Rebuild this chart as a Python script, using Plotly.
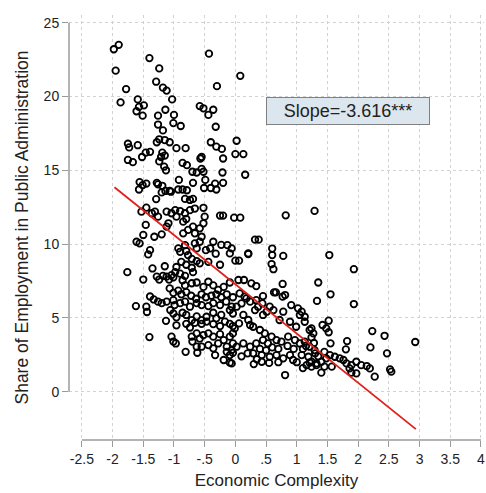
import plotly.graph_objects as go

# ---------------- data ----------------
# Economic complexity (x) and share of employment in public administration (y)
top_x = [-1.98,-1.90,-1.95,-1.78,-1.87,-1.59,-1.57,-1.61,-1.49,-1.51,-1.40,-1.24,-1.29,-1.18,-1.12,-1.03,
         -1.14,-1.26,-1.26,-1.18,-1.00,-1.01,-0.89,-0.58,-0.52,-0.36,-0.44,-0.32,-0.43,-0.30,0.08]
top_y = [23.2,23.5,21.75,20.5,19.6,19.8,19.3,19.0,19.4,18.7,22.6,21.9,21.0,20.6,20.4,19.8,
         19.1,18.7,18.1,17.7,18.75,18.2,18.0,19.35,19.2,19.1,18.75,17.95,22.9,20.7,21.4]

upper_x = [-1.75,-1.73,-1.59,-1.75,-1.67,-1.52,-1.46,-1.39,-1.28,-1.24,-1.15,-1.07,-1.19,-1.15,-1.21,-1.24,
           -1.16,-1.13,-0.96,-0.86,-0.79,-0.70,-0.63,-0.55,-0.52,-0.57,-0.55,-0.40,-0.31,-0.22,-0.81,0.02,
           0.00,0.13,0.16,-0.20,-0.21]
upper_y = [16.8,16.55,16.7,15.7,15.55,15.9,16.2,16.25,16.9,17.1,17.05,16.9,16.2,16.0,15.9,15.6,
           15.25,15.0,16.5,15.5,15.35,14.9,14.85,15.1,14.9,15.8,15.9,16.9,16.6,16.45,16.5,17.0,
           16.1,16.1,14.7,15.8,14.85]

mid_hi_x = [-1.56,-1.51,-1.45,-1.57,-1.28,-1.26,-1.19,-1.14,-1.20,-1.07,-1.05,-1.29,-0.92,-0.93,-0.86,-0.79,
            -0.69,-0.49,-0.51,-0.40,-0.33,-0.20,-0.31,-0.82,-0.74,-0.69]
mid_hi_y = [14.2,14.0,14.1,13.7,14.15,14.05,13.95,13.6,13.5,13.6,13.55,13.05,14.35,13.7,13.7,13.65,
            14.15,14.35,13.8,13.8,14.1,14.15,13.7,13.06,12.99,13.06]

left_mid_x = [-1.45,-1.53,-1.36,-1.31,-1.26,-1.12,-1.09,-1.46,-1.12,-1.50,-1.32,-1.20,-1.61,-1.56,-1.39,-1.42]
left_mid_y = [12.47,12.2,12.09,12.2,11.86,12.2,11.41,11.3,11.18,10.62,10.5,10.66,10.16,10.05,9.59,9.3]

center_mid_x = [-0.98,-0.90,-0.82,-0.74,-0.66,-0.52,-0.80,-0.85,-0.96,-1.04,-0.50,-0.52,-0.58,-0.69,-0.77,-0.66,
                -0.85,-0.55,-0.58,-0.82,-0.93,-0.90,-0.80,-0.66,-0.63,-0.25,-0.20,-0.02,0.08,-0.13,-0.06,-0.09,
                0.21,-0.36,-0.41,-0.48]
center_mid_y = [12.3,12.24,12.09,12.3,12.41,12.46,11.7,11.52,11.86,12.09,11.86,11.41,11.07,11.18,10.96,10.73,
                10.73,10.5,10.16,9.93,9.71,9.48,9.53,10.05,9.71,11.93,11.93,11.79,11.79,9.93,9.71,9.37,
                9.37,10.16,9.71,9.59]

scatter_mid_x = [0.82,1.29,0.32,0.38,0.60,-0.77,-0.71,-0.63,-0.58,-0.32,-0.23,0.60,0.78,0.59,0.62,0.21,
                 0.00,0.06,1.53,1.93,-1.76,-1.50,-1.35,-1.15]
scatter_mid_y = [11.95,12.25,10.3,10.3,9.7,9.25,9.0,8.85,8.7,9.35,9.95,9.26,9.2,8.65,8.3,9.33,
                 8.88,8.88,9.26,8.3,8.1,7.6,8.35,8.5]

band7_x = [-1.28,-1.24,-1.18,-1.12,-1.08,-1.04,-1.01,-0.98,-0.90,-0.86,-0.82,-0.96,-0.88,-0.80,-0.71,-0.69,
           -0.44,-0.25,-0.82,-0.71,-0.63,-0.52,-0.44,-0.36,-0.28,-0.19,-0.09,-1.07,-1.01,-0.93,-0.88,-0.80,
           -0.72,-0.64,-0.55,-0.48,-0.39,-0.31,-0.23,-0.14,-0.04,-1.39,-1.33,0.05,0.14,0.26,0.34,0.77,
           0.77,0.81,0.63,0.66,0.07,0.15,0.24,0.34,0.45,1.35,1.55,1.33]
band7_y = [7.8,7.6,7.85,7.8,7.6,7.9,7.75,8.1,8.0,7.55,7.85,8.45,8.8,8.6,8.4,8.1,
           8.8,8.6,7.2,7.35,7.4,7.1,7.45,7.2,6.9,7.1,7.4,7.0,6.7,6.85,6.6,6.75,
           6.5,6.3,6.6,6.4,6.5,6.6,6.4,6.6,6.4,6.45,6.25,7.57,7.57,7.34,7.16,7.3,
           6.44,6.55,6.73,6.73,6.66,6.44,6.1,6.2,6.48,7.4,6.6,6.15]

band5_x = [-1.12,-1.01,-0.99,-0.90,-0.82,-0.74,-0.63,-0.55,-0.44,-0.36,-0.25,-0.15,-0.06,
           -1.62,-1.45,-1.44,-1.26,-1.20,
           -1.06,-1.01,-0.96,-0.86,-0.80,-0.71,-0.63,-0.55,-0.47,-0.36,-0.31,-0.23,-0.09,-0.04,
           -1.13,
           -0.96,-0.80,-0.74,-0.66,-0.55,-0.47,-0.36,-0.25,-0.17,-0.09,-0.04]
band5_y = [6.1,6.2,5.87,6.0,6.1,5.76,6.0,5.87,5.8,6.0,5.87,6.1,5.76,
           5.8,5.76,5.4,6.1,6.0,
           5.53,5.3,5.04,5.35,5.2,4.85,5.1,4.85,5.08,5.35,4.97,5.2,5.53,5.3,
           4.8,
           4.5,4.6,4.35,4.67,4.6,4.75,4.58,4.45,4.75,4.6,4.45]

band5r_x = [0.44,0.37,0.32,0.02,0.13,0.21,0.06,-0.01,0.24,0.62,0.91,1.02,1.08,1.05,1.13,0.78,
            0.72,0.89,0.99,1.13,1.21,1.24,1.27,0.56,0.51,0.45,0.10,0.18,1.93,1.52,1.48,1.42]
band5r_y = [5.98,5.76,5.53,5.76,5.2,4.86,4.63,4.29,4.52,5.53,5.87,5.65,5.42,5.2,5.08,5.42,
            4.86,4.74,4.4,4.74,4.18,4.29,3.95,5.76,5.42,5.2,5.98,6.32,5.94,4.81,4.29,4.52]

low_left_x = [-1.40,-1.04,-1.01,-0.97,
              -0.71,-0.63,-0.58,-0.52,-0.44,-0.36,-0.25,-0.19,-0.09,-0.04,
              -0.70,-0.63,-0.55,-0.44,-0.36,-0.28,-0.14,-0.04,
              -0.81,-0.62,-0.33,-0.19,-0.06,-0.14,-0.09,-0.04]
low_left_y = [3.7,3.73,3.4,3.27,
              3.73,3.95,3.6,3.84,3.95,3.73,3.9,3.5,3.73,3.95,
              3.4,3.05,3.05,3.16,2.94,3.27,3.05,3.27,
              2.7,2.64,2.48,2.15,1.92,2.7,2.48,2.64]

low_right_x = [0.29,0.40,0.48,0.59,0.67,0.75,0.86,0.97,1.05,1.13,1.21,1.29,0.45,0.53,0.34,0.24,0.13,0.02,-0.06,
               0.29,0.43,0.56,0.67,0.78,0.89,0.94,1.08,1.19,1.24,1.32,1.40,1.48,1.54,1.62,1.70,1.76,1.81,
               1.16,1.24,1.32,1.21,
               -0.09,0.30,0.43,0.81,1.40,1.89,1.97,2.05,2.14,2.19,2.27,1.89,1.97,
               1.82,1.80,1.24,
               2.23,2.20,2.43,2.47,2.52,2.54,2.93,
               1.52,1.55,1.86,1.57]
low_right_y = [4.4,4.18,3.95,3.73,3.5,3.39,3.73,3.5,3.27,3.39,3.05,2.82,3.5,3.27,3.27,3.05,3.27,3.05,2.82,
               2.6,2.48,2.37,2.48,2.26,2.48,2.15,2.48,2.37,2.03,1.92,2.03,2.26,2.48,2.37,2.26,2.15,1.92,
               1.8,1.7,1.8,1.97,
               1.97,1.87,2.03,1.13,1.29,1.8,2.03,1.8,1.74,1.58,1.02,1.29,1.24,
               3.43,2.87,3.68,
               4.11,3.0,3.79,2.6,1.51,1.36,3.37,
               4.03,3.28,1.58,1.7]

dense_x = [1.10,1.15,1.28,1.30,1.35,1.45,0.95,0.85,0.70,0.60,0.50,0.40,0.20,0.10,0.35,0.55,0.70,1.00,1.10,1.45]
dense_y = [2.9,3.1,3.3,2.6,2.4,2.7,2.9,3.1,2.9,3.0,2.8,2.9,2.6,2.4,2.2,1.95,2.0,2.0,1.6,1.7]

# fitted line end points
fit_x = [-1.97, 2.94]
fit_y = [13.85, -2.53]
slope_label = "Slope=-3.616***"

x_ticks = [-2.5, -2, -1.5, -1, -0.5, 0, 0.5, 1, 1.5, 2, 2.5, 3, 3.5, 4]
x_tick_text = ["-2.5", "-2", "-1.5", "-1", "-.5", "0", ".5", "1", "1.5", "2", "2.5", "3", "3.5", "4"]
y_ticks = [0, 5, 10, 15, 20, 25]

groups = [(top_x, top_y), (upper_x, upper_y), (mid_hi_x, mid_hi_y), (left_mid_x, left_mid_y),
          (center_mid_x, center_mid_y), (scatter_mid_x, scatter_mid_y), (band7_x, band7_y),
          (band5_x, band5_y), (band5r_x, band5r_y), (low_left_x, low_left_y),
          (low_right_x, low_right_y), (dense_x, dense_y)]
xs, ys = [], []
for gx, gy in groups:
    assert len(gx) == len(gy)
    xs += gx
    ys += gy

FONT = "Liberation Sans, Arial, sans-serif"

fig = go.Figure()
fig.add_trace(go.Scatter(
    x=xs, y=ys, mode="markers",
    marker=dict(symbol="circle-open", size=6.5, color="black", line=dict(width=1.8, color="black")),
    showlegend=False, hoverinfo="skip"))
fig.add_trace(go.Scatter(
    x=fit_x, y=fit_y, mode="lines",
    line=dict(color="#e0201b", width=1.8), showlegend=False, hoverinfo="skip"))

axis_gray = "#9a9a9a"
grid_gray = "#d2d2d2"

fig.update_xaxes(
    range=[-2.71, 4.05], tickvals=x_ticks, ticktext=x_tick_text,
    showgrid=True, gridcolor=grid_gray, griddash="dot", gridwidth=1,
    zeroline=False, showline=False, ticks="outside", ticklen=6, tickcolor=axis_gray,
    tickfont=dict(family=FONT, size=14, color="#222"),
    title=dict(text="Economic Complexity", font=dict(family=FONT, size=17, color="#222"), standoff=8))
fig.update_yaxes(
    range=[-3.27, 25.52], tickvals=y_ticks,
    showgrid=True, gridcolor=grid_gray, griddash="dot", gridwidth=1,
    zeroline=False, showline=False, ticks="outside", ticklen=6, tickcolor=axis_gray,
    tickfont=dict(family=FONT, size=14, color="#222"),
    title=dict(text="Share of Employment in Public Administration",
               font=dict(family=FONT, size=17.5, color="#222"), standoff=10))

# Stata-style axis lines spanning only the tick range
fig.add_shape(type="line", xref="paper", yref="y", x0=0, x1=0, y0=y_ticks[0], y1=y_ticks[-1],
              line=dict(color=axis_gray, width=1.5))
fig.add_shape(type="line", xref="x", yref="paper", x0=x_ticks[0], x1=x_ticks[-1], y0=0, y1=0,
              line=dict(color=axis_gray, width=1.5))

fig.add_annotation(x=1.83, y=19.0, xref="x", yref="y", text=slope_label, showarrow=False,
                   font=dict(family=FONT, size=18, color="#222"),
                   bgcolor="#dce6ee", bordercolor="#808080", borderwidth=1, borderpad=2,
                   width=158, height=22)

fig.update_layout(
    width=486, height=493, autosize=False,
    margin=dict(l=69, r=2, t=15, b=53),
    paper_bgcolor="white", plot_bgcolor="white",
    font=dict(family=FONT))

fig.write_html("out.html")
